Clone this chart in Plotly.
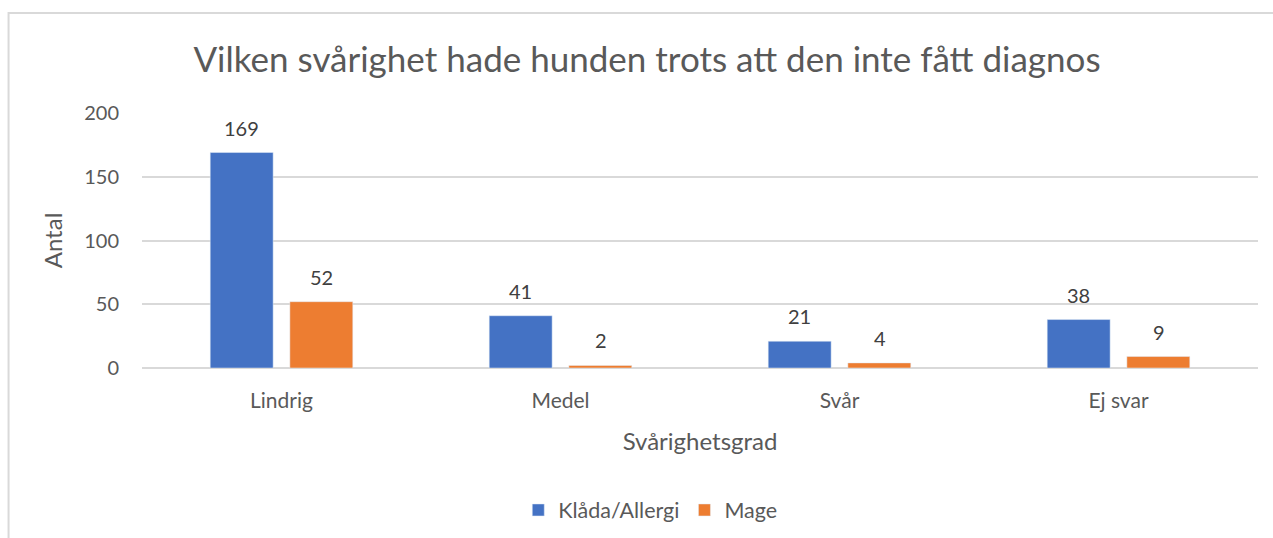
import plotly.graph_objects as go

categories = ["Lindrig", "Medel", "Svår", "Ej svar"]
klada_allergi = [169, 41, 21, 38]
mage = [52, 2, 4, 9]
series_names = ["Klåda/Allergi", "Mage"]
y_ticks = [0, 50, 100, 150, 200]

BLUE = "#4472C4"
ORANGE = "#ED7D31"
FONT = "Lato, 'Open Sans', sans-serif"
GRAY = "#595959"

fig = go.Figure()
fig.add_trace(go.Bar(x=categories, y=klada_allergi, name=series_names[0], marker_color=BLUE))
fig.add_trace(go.Bar(x=categories, y=mage, name=series_names[1], marker_color=ORANGE))

annotations = []
for vals, shift in ((klada_allergi, -40), (mage, 40)):
    for c, v in zip(categories, vals):
        annotations.append(dict(x=c, y=v, xref="x", yref="y", text=str(v), showarrow=False,
                                xshift=shift, yshift=25, font=dict(family=FONT, size=20, color="#404040")))

L, R, T, B = 141.5, 15, 113, 170
pw = 1273 - L - R
ph = 538 - T - B

fig.update_layout(
    width=1273, height=538,
    margin=dict(l=L, r=R, t=T, b=B, autoexpand=False),
    paper_bgcolor="white", plot_bgcolor="white",
    barmode="group", bargap=0.429, bargroupgap=0.21,
    title=dict(text="Vilken svårighet hade hunden trots att den inte fått diagnos",
               x=647 / 1273, xanchor="center", y=1 - 60 / 538, yanchor="middle",
               font=dict(family=FONT, size=35, color=GRAY)),
    font=dict(family=FONT, color=GRAY),
    legend=dict(orientation="h", x=(650 - L) / pw, xanchor="center", y=(368 - 510) / ph, yanchor="middle",
                font=dict(family=FONT, size=21.5, color=GRAY)),
    annotations=annotations,
    shapes=[dict(type="rect", xref="paper", yref="paper",
                 x0=(8 - L) / pw, x1=(1290 - L) / pw, y0=(368 - 560) / ph, y1=(368 - 13) / ph,
                 line=dict(color="#d9d9d9", width=2), fillcolor="rgba(0,0,0,0)", layer="below")],
)
fig.update_xaxes(showgrid=False, showline=False, zeroline=False, ticks="",
                 tickfont=dict(family=FONT, size=21, color=GRAY), ticklabelstandoff=18,
                 title=dict(text="Svårighetsgrad", font=dict(family=FONT, size=24, color=GRAY), standoff=22))
fig.update_yaxes(range=[0, 200], tickvals=y_ticks, showgrid=True, gridcolor="#d9d9d9", gridwidth=1.5,
                 zeroline=True, zerolinecolor="#d9d9d9", zerolinewidth=1.5, showline=False, ticks="",
                 tickfont=dict(family=FONT, size=20, color=GRAY), ticklabelstandoff=22,
                 title=dict(text="Antal", font=dict(family=FONT, size=24, color=GRAY), standoff=14))

fig.write_html("out.html", config={"displayModeBar": False},
               post_script="document.body.style.margin='0';document.body.style.overflow='hidden';")
